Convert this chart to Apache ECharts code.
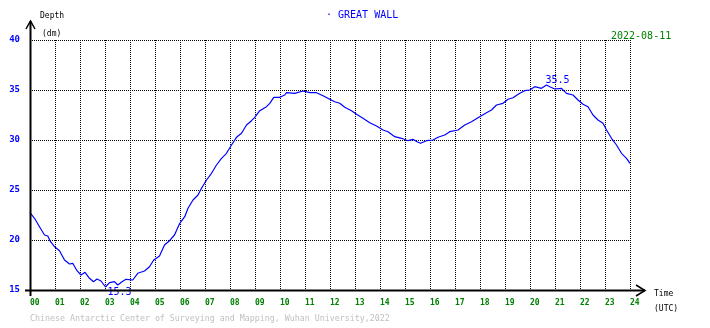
<!DOCTYPE html>
<html><head><meta charset="utf-8">
<script src="https://cdn.jsdelivr.net/npm/echarts@6/dist/echarts.min.js"></script>
<style>html,body{margin:0;padding:0;background:#fff}#c{width:710px;height:328px}</style>
</head><body><div id="c"></div>
<script>
const hours = [0,0.18,0.38,0.58,0.71,0.82,0.98,1.18,1.38,1.58,1.71,1.88,2.04,2.2,2.38,2.54,2.68,2.84,3.02,3.18,3.38,3.51,3.68,3.84,4.11,4.31,4.58,4.78,4.95,5.18,5.38,5.58,5.78,5.99,6.19,6.32,6.52,6.72,6.86,7.06,7.26,7.46,7.66,7.86,8.06,8.26,8.46,8.66,8.86,8.99,9.19,9.46,9.59,9.75,9.99,10.19,10.26,10.59,10.92,11.19,11.46,11.72,11.99,12.19,12.39,12.59,12.86,13.06,13.32,13.59,13.86,14.12,14.32,14.59,14.86,15.12,15.32,15.48,15.62,15.86,16.12,16.32,16.59,16.79,17.12,17.39,17.66,17.92,18.26,18.46,18.66,18.92,19.12,19.32,19.59,19.79,19.99,20.19,20.46,20.66,20.79,20.99,21.26,21.46,21.72,21.92,22.12,22.32,22.52,22.72,22.92,23.06,23.26,23.46,23.66,23.86,24];
const depth = [22.73,22.17,21.33,20.5,20.4,19.83,19.33,18.93,18.0,17.6,17.67,16.93,16.5,16.77,16.17,15.83,16.1,15.9,15.3,15.73,15.83,15.5,15.83,16.07,16.0,16.67,16.9,17.33,18.0,18.4,19.5,19.93,20.5,21.67,22.33,23.17,24.0,24.5,25.17,26.0,26.67,27.5,28.17,28.67,29.5,30.27,30.67,31.5,31.93,32.27,32.93,33.33,33.67,34.27,34.27,34.5,34.73,34.67,34.9,34.73,34.73,34.43,34.07,33.83,33.67,33.27,32.93,32.57,32.17,31.73,31.4,31.0,30.83,30.33,30.17,29.93,30.07,29.83,29.67,29.93,30.0,30.27,30.5,30.83,31.0,31.5,31.83,32.23,32.73,33.0,33.5,33.67,34.07,34.23,34.67,34.93,35.0,35.33,35.17,35.5,35.33,35.1,35.17,34.67,34.5,34.0,33.57,33.33,32.5,32.0,31.67,31.0,30.17,29.5,28.67,28.17,27.67];
const xTickLabels = ['00','01','02','03','04','05','06','07','08','09','10','11','12','13','14','15','16','17','18','19','20','21','22','23','24'];
const yTicks = [15,20,25,30,35,40];
const stationTitle = '\u00b7 GREAT WALL';
const dateText = '2022-08-11';
const footerText = 'Chinese Antarctic Center of Surveying and Mapping, Wuhan University,2022';

const FONT = 'DejaVu Sans Mono';
const G = {left:30, right:80, top:40, bottom:38};
const chart = echarts.init(document.getElementById('c'), null, {renderer:'canvas'});
const dotted = {color:'#000', width:1, type:[1,1]};
const data = hours.map((h,i)=>[h, depth[i]]);
const axisX = 30.5, axisY = 290.5;
chart.setOption({
  animation:false,
  backgroundColor:'#fff',
  grid:{left:G.left, right:G.right, top:G.top, bottom:G.bottom, containLabel:false},
  xAxis:{type:'value', min:0, max:24, interval:1,
    axisLine:{show:false}, axisTick:{show:false},
    splitLine:{show:true, lineStyle:dotted},
    axisLabel:{color:'#008000', fontFamily:FONT, fontSize:8, fontWeight:'bold', align:'left', margin:9,
      formatter:v=>xTickLabels[Math.round(v)]}},
  yAxis:{type:'value', min:15, max:40, interval:5,
    axisLine:{show:false}, axisTick:{show:false},
    splitLine:{show:true, lineStyle:dotted},
    axisLabel:{color:'#0000ff', fontFamily:FONT, fontSize:9, fontWeight:'bold', margin:10, padding:[0,0,4,0],
      formatter:v=>yTicks.includes(v)?String(v):''}},
  series:[{type:'line', data:data, showSymbol:false, symbol:'none',
    lineStyle:{color:'#0000ff', width:1.2}, z:3,
    markPoint:{symbol:'circle', symbolSize:0, silent:true,
      label:{show:true, color:'#0000ff', fontFamily:FONT, fontSize:10, formatter:p=>p.value.toFixed(1)},
      data:[
        {type:'max', label:{position:[-1,-10]}},
        {type:'min', label:{position:[2,0]}}
      ]}}],
  graphic:[
    // axes with arrows
    {type:'line', shape:{x1:axisX, y1:296, x2:axisX, y2:21}, style:{stroke:'#000', lineWidth:2}, z:10},
    {type:'polyline', shape:{points:[[26,29],[axisX,21],[35,29]]}, style:{stroke:'#000', lineWidth:1.5, fill:null}, z:10},
    {type:'line', shape:{x1:25, y1:axisY, x2:645, y2:axisY}, style:{stroke:'#000', lineWidth:2}, z:10},
    {type:'polyline', shape:{points:[[636,285],[645,axisY],[636,296]]}, style:{stroke:'#000', lineWidth:1.5, fill:null}, z:10},
    {type:'text', left:40, top:12, style:{text:'Depth', fill:'#000', font:'8px "DejaVu Sans Mono"'}},
    {type:'text', left:42, top:30, style:{text:'(dm)', fill:'#000', font:'8px "DejaVu Sans Mono"'}},
    {type:'text', left:654, top:290, style:{text:'Time', fill:'#000', font:'8px "DejaVu Sans Mono"'}},
    {type:'text', left:654, top:305, style:{text:'(UTC)', fill:'#000', font:'8px "DejaVu Sans Mono"'}},
    {type:'text', left:326, top:10, style:{text:stationTitle, fill:'#0000ff', font:'10px "DejaVu Sans Mono"'}},
    {type:'text', left:611, top:31, style:{text:dateText, fill:'#008000', font:'10px "DejaVu Sans Mono"'}},
    {type:'text', left:30, top:315, style:{text:footerText, fill:'#c0c0c0', font:'8.3px "DejaVu Sans Mono"'}}
  ]
});
</script></body></html>
